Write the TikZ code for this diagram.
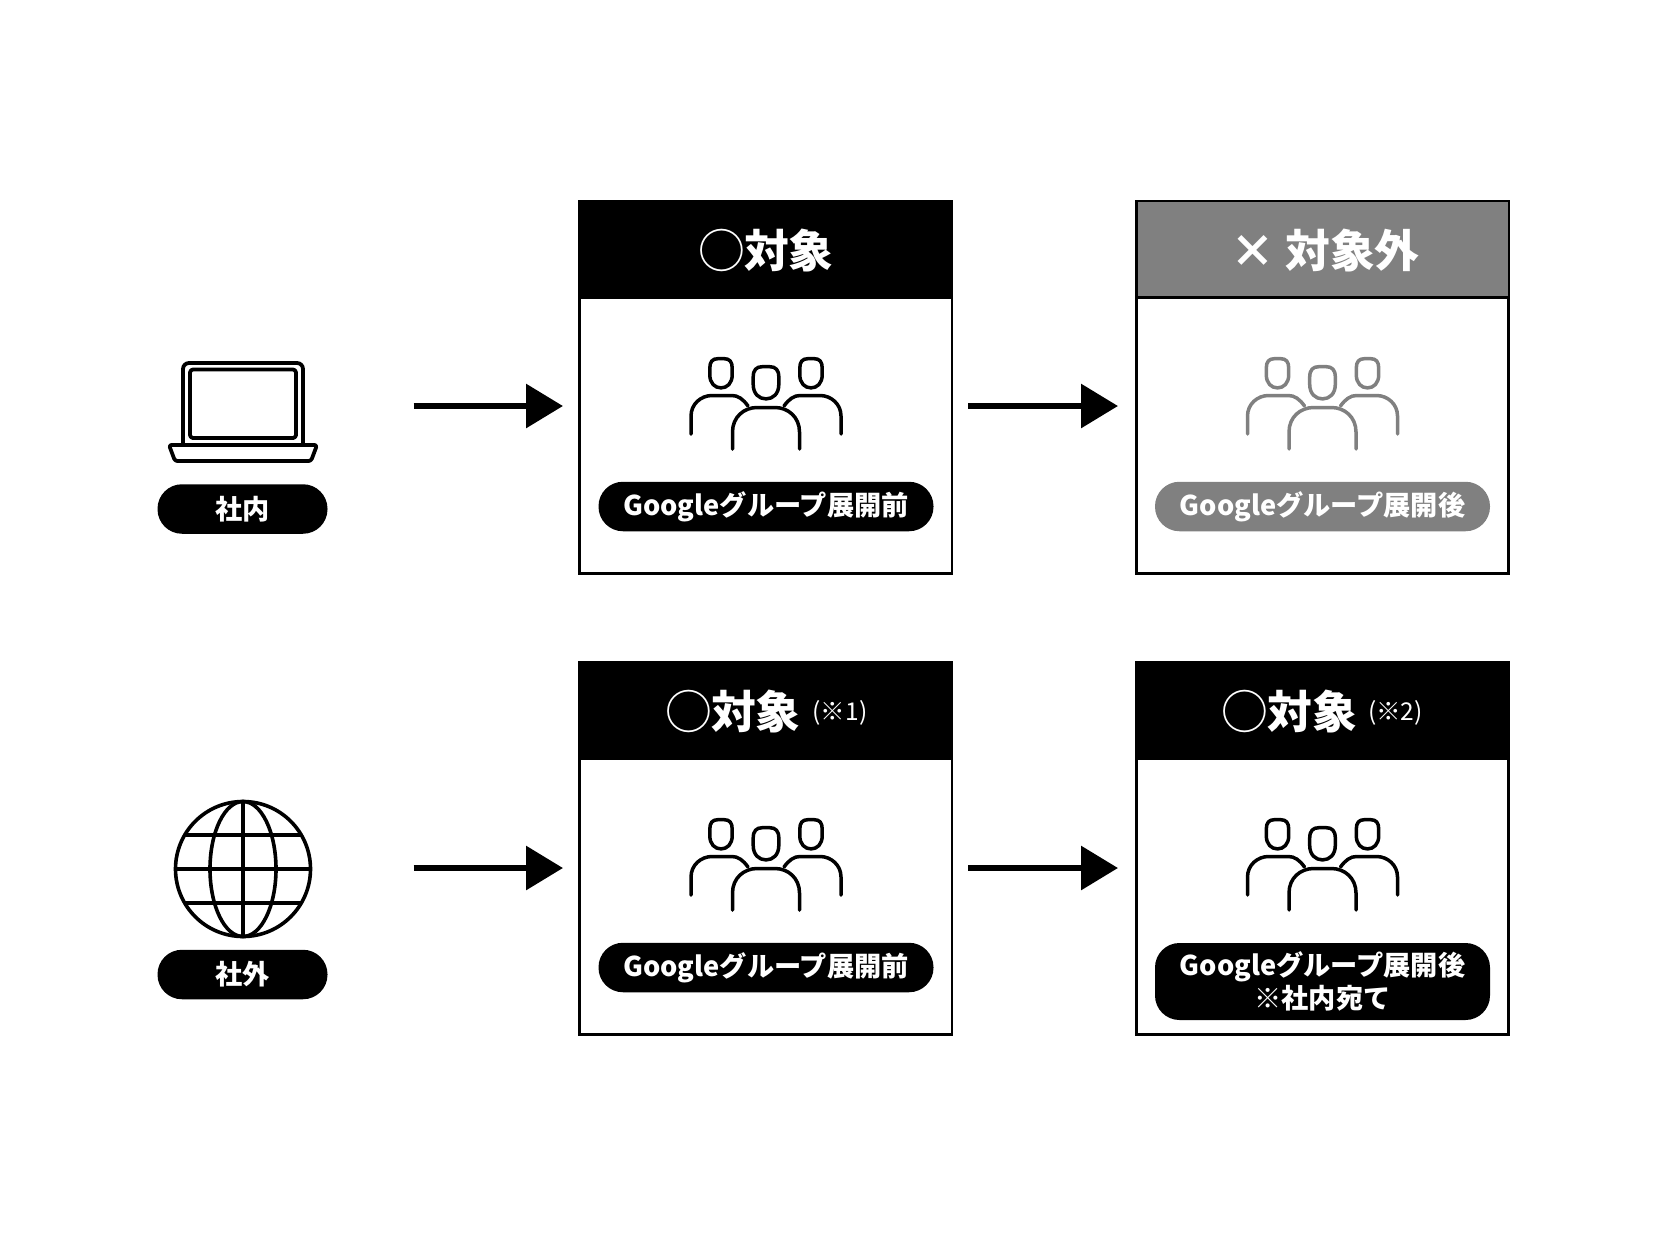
\documentclass[tikz,border=0pt]{standalone}
\usepackage{fontspec}
\setmainfont{Noto Sans CJK JP}
\usetikzlibrary{arrows.meta,shapes.misc}
\definecolor{gr}{HTML}{808080}
\tikzset{
  x=1pt,y=-1pt,
  iconline/.style={line width=3.5pt,line cap=round,line join=round},
  panel/.style={draw=black,line width=2.9pt,fill=white,minimum width=372.5pt,minimum height=372.6pt,inner sep=0pt,outer sep=0pt,anchor=north west},
  headbar/.style={fill=#1,minimum width=375pt,minimum height=99pt,inner sep=0pt,outer sep=0pt,anchor=north west,text=white,font=\fontsize{44.8}{45}\selectfont\bfseries},
  headbar/.default=black,
  headtext/.style={text=white,font=\fontsize{44.8}{45}\selectfont\bfseries,inner sep=0pt},
  pill/.style={fill=#1,rounded corners=24.5pt,inner sep=0pt,outer sep=0pt,text=white,font=\fontsize{27.2}{33}\selectfont\bfseries,align=center,minimum height=49.5pt},
  pill/.default=black,
  arr/.style={line width=6.3pt,-{Triangle[length=37pt,width=43pt]}},
  note/.style={text=white,font=\fontsize{24.5}{24.5}\selectfont,inner sep=0pt},
}
\newcommand{\peopleicon}[3]{%
  \begin{scope}[shift={(#1,#2)},iconline,draw=#3]
    \foreach \hx/\ty/\hw/\hh in {-45/158.7/11.2/29.2,45/158.7/11.2/29.2,0/166.7/12.8/32.2}{
      \draw (\hx-\hw,\ty+0.32*\hh) .. controls (\hx-\hw,\ty+0.1*\hh) and (\hx-0.75*\hw,\ty) .. (\hx-0.3*\hw,\ty)
        -- (\hx+0.3*\hw,\ty) .. controls (\hx+0.75*\hw,\ty) and (\hx+\hw,\ty+0.1*\hh) .. (\hx+\hw,\ty+0.32*\hh)
        -- (\hx+\hw,\ty+0.55*\hh) .. controls (\hx+\hw,\ty+0.84*\hh) and (\hx+0.55*\hw,\ty+\hh) .. (\hx,\ty+\hh)
        .. controls (\hx-0.55*\hw,\ty+\hh) and (\hx-\hw,\ty+0.84*\hh) .. (\hx-\hw,\ty+0.55*\hh) -- cycle;
    }
    \draw (-33.5,249) -- (-33.5,232) .. controls (-33.5,217) and (-22,207.5) .. (-9,207.5) -- (9,207.5)
        .. controls (22,207.5) and (33.5,217) .. (33.5,232) -- (33.5,249);
    \draw (-75,234) -- (-75,216) .. controls (-75,204) and (-65,195.5) .. (-54,195.5) -- (-34,195.5)
        .. controls (-28,195.5) and (-23,199) .. (-18,206);
    \draw (75,234) -- (75,216) .. controls (75,204) and (65,195.5) .. (54,195.5) -- (34,195.5)
        .. controls (28,195.5) and (23,199) .. (18,206);
  \end{scope}
}
\begin{document}
\begin{tikzpicture}
\useasboundingbox (0,0) rectangle (1667,1251);
\fill[white] (0,0) rectangle (1667,1251);

% laptop
\node[minimum width=148pt,minimum height=100pt,inner sep=0pt] (laptop) at (243,411) {};
\begin{scope}[iconline,line width=3.8pt]
  \draw[rounded corners=6pt] (183,445) -- (183,363) -- (303,363) -- (303,445);
  \draw[rounded corners=3pt] (190,369.5) rectangle (296,438);
  \draw[rounded corners=2.5pt] (169,445) -- (317,445) -- (311,461) -- (175,461) -- cycle;
\end{scope}
\node[pill,minimum width=170pt] (inpill) at (242.5,509) {社内};

% globe
\node[circle,draw,line width=3.6pt,minimum size=135pt,inner sep=0pt] (globe) at (243,869) {};
\begin{scope}[iconline,line width=3.6pt,line cap=butt]
  \draw (243,869) ellipse (33 and 67.5);
  \draw (243,801) -- (243,936);
  \draw (175.5,869) -- (310.5,869);
  \draw (185,835) -- (301,835);
  \draw (185,903) -- (301,903);
\end{scope}
\node[pill,minimum width=170pt] (outpill) at (242.5,974.5) {社外};

% row 1
\node[panel] (p1) at (579.5,201) {};
\node[headbar] (h1) at (578,200) {};
\node[headtext] (h1t) at (766.5,250.5) {◯対象};
\peopleicon{766}{200}{black}
\node[pill,minimum width=335pt] (t1) at (766,506.5) {Googleグループ展開前};

\node[panel] (p2) at (1136.3,201) {};
\node[headbar=gr,draw=black,line width=2.6pt,minimum width=372.5pt,minimum height=96.5pt] (h2) at (1136.3,201) {};
\node[headtext] (h2t) at (1325,250.5) {× 対象外};
\peopleicon{1322.5}{200}{gr}
\node[pill=gr,minimum width=335pt] (t2) at (1322.5,506.5) {Googleグループ展開後};

% row 2
\node[panel] (p3) at (579.5,662) {};
\node[headbar] (h3) at (578,660.7) {};
\node[headtext] (h3t) at (733.5,711) {◯対象};
\node[note] (n1) at (840,712.5) {(※1)};
\peopleicon{766}{661}{black}
\node[pill,minimum width=335pt] (t3) at (766,967.5) {Googleグループ展開前};

\node[panel] (p4) at (1136.3,662) {};
\node[headbar] (h4) at (1135,660.7) {};
\node[headtext] (h4t) at (1290,711) {◯対象};
\node[note] (n2) at (1395.5,712.5) {(※2)};
\peopleicon{1322.5}{661}{black}
\node[pill,minimum width=335pt,minimum height=77pt] (t4) at (1322.5,981.5) {Googleグループ展開後\\※社内宛て};

% arrows
\coordinate (a1s) at (413.5,406);
\coordinate (a1e) at (563,406);
\coordinate (a2s) at (968,406);
\coordinate (a2e) at (1118,406);
\coordinate (a3s) at (413.5,868);
\coordinate (a3e) at (563,868);
\coordinate (a4s) at (968,868);
\coordinate (a4e) at (1118,868);
\draw[arr] (a1s) -- (a1e);
\draw[arr] (a2s) -- (a2e);
\draw[arr] (a3s) -- (a3e);
\draw[arr] (a4s) -- (a4e);
\end{tikzpicture}
\end{document}
